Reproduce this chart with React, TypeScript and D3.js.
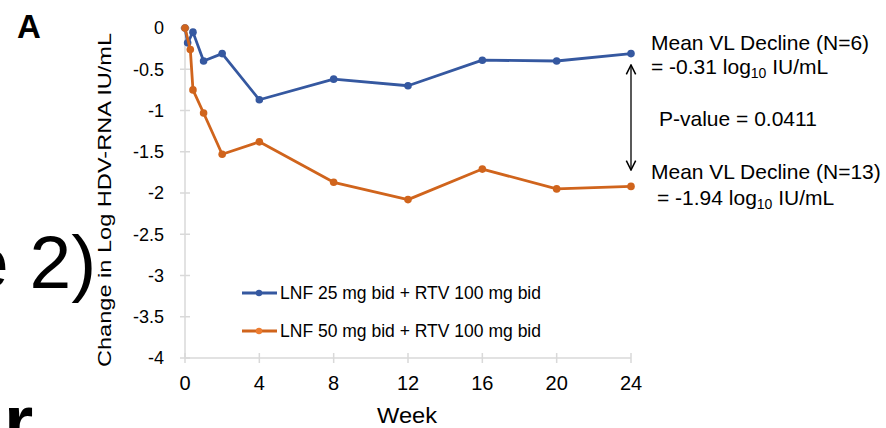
import React from "react";
import * as d3 from "d3";

// weeks sampled for each arm (early days shown as fractions of a week)
const weeksLow = [0, 1 / 7, 3 / 7, 1, 2, 4, 8, 12, 16, 20, 24];
const valuesLow = [0, -0.18, -0.05, -0.4, -0.31, -0.87, -0.62, -0.7, -0.39, -0.4, -0.31];
const weeksHigh = [0, 2 / 7, 3 / 7, 1, 2, 4, 8, 12, 16, 20, 24];
const valuesHigh = [0, -0.26, -0.75, -1.03, -1.53, -1.38, -1.87, -2.08, -1.71, -1.95, -1.92];

const seriesNames = ["LNF 25 mg bid + RTV 100 mg bid", "LNF 50 mg bid + RTV 100 mg bid"];
const xTicks = [0, 4, 8, 12, 16, 20, 24];
const yTicks = [0, -0.5, -1, -1.5, -2, -2.5, -3, -3.5, -4];

const BLUE = "#3558a0";
const ORANGE = "#d0641c";
const FONT = "Arial, 'Liberation Sans', sans-serif";

export default function App() {
  const x = d3.scaleLinear().domain([0, 24]).range([185, 631]);
  const y = d3.scaleLinear().domain([-4, 0]).range([358, 28]);
  const line = d3
    .line<[number, number]>()
    .x((d) => x(d[0]))
    .y((d) => y(d[1]));

  const series = [
    { name: seriesNames[0], color: BLUE, pts: weeksLow.map((w, i) => [w, valuesLow[i]] as [number, number]) },
    { name: seriesNames[1], color: ORANGE, pts: weeksHigh.map((w, i) => [w, valuesHigh[i]] as [number, number]) },
  ];

  return (
    <svg
      width={886}
      height={428}
      style={{ position: "absolute", left: 0, top: 0, background: "#fff", fontFamily: FONT }}
    >
      <defs>
        <marker id="ah" viewBox="0 0 10 10" refX="9" refY="5" markerWidth="9" markerHeight="9" orient="auto-start-reverse">
          <path d="M1,1 L9,5 L1,9" fill="none" stroke="#000" strokeWidth="1.3" />
        </marker>
      </defs>

      {/* stray slide text */}
      <text x={17} y={38} fontSize={33} fontWeight="bold" fill="#000">A</text>
      <text x={-33} y={288} fontSize={75} fill="#000">e 2)</text>
      <text x={4} y={447} fontSize={75} fontWeight="bold" fill="#000">r</text>

      {/* axes */}
      <line x1={x(0)} x2={x(0)} y1={y(0)} y2={y(-4)} stroke="#d9d9d9" strokeWidth={1.5} />
      <line x1={x(0)} x2={x(24)} y1={y(-4)} y2={y(-4)} stroke="#d9d9d9" strokeWidth={1.5} />
      {yTicks.map((v) => (
        <g key={v}>
          <line x1={x(0) - 5} x2={x(0) + 5} y1={y(v)} y2={y(v)} stroke="#d9d9d9" strokeWidth={1.5} />
          <text x={164} y={y(v)} dy="0.35em" textAnchor="end" fontSize={18} fill="#000">
            {v}
          </text>
        </g>
      ))}
      {xTicks.map((v) => (
        <g key={v}>
          <line x1={x(v)} x2={x(v)} y1={y(-4) - 5} y2={y(-4) + 5} stroke="#d9d9d9" strokeWidth={1.5} />
          <text x={x(v)} y={390} textAnchor="middle" fontSize={20} fill="#000">
            {v}
          </text>
        </g>
      ))}
      <text x={407} y={423} textAnchor="middle" fontSize={22} textLength={60} lengthAdjust="spacingAndGlyphs" fill="#000">
        Week
      </text>
      <text
        transform="translate(111,200) rotate(-90)"
        textAnchor="middle"
        fontSize={19}
        textLength={334}
        lengthAdjust="spacingAndGlyphs"
        fill="#000"
      >
        Change in Log HDV-RNA IU/mL
      </text>

      {/* series */}
      {series.map((s) => (
        <g key={s.name}>
          <path d={line(s.pts) ?? ""} fill="none" stroke={s.color} strokeWidth={2.8} strokeLinejoin="round" />
          {s.pts.map((p, i) => (
            <circle key={i} cx={x(p[0])} cy={y(p[1])} r={3.8} fill={s.color} />
          ))}
        </g>
      ))}

      {/* legend */}
      {series.map((s, i) => (
        <g key={s.name} transform={`translate(242,${293 + i * 38})`}>
          <line x1={0} x2={35} y1={0} y2={0} stroke={s.color} strokeWidth={2.8} />
          <circle cx={17} cy={0} r={3.2} fill={i === 0 ? BLUE : "#ed7d31"} />
          <text x={38} y={0} dy="0.35em" fontSize={17.5} textLength={261} lengthAdjust="spacingAndGlyphs" fill="#000">
            {s.name}
          </text>
        </g>
      ))}

      {/* annotation */}
      <line x1={631} x2={631} y1={65} y2={170} stroke="#000" strokeWidth={1.3} markerStart="url(#ah)" markerEnd="url(#ah)" />
      <g fontSize={21} fill="#000">
        <text x={651} y={50}>Mean VL Decline (N=6)</text>
        <text x={651} y={74}>
          = -0.31 log<tspan fontSize={14} dy={4}>10</tspan>
          <tspan dy={-4}> IU/mL</tspan>
        </text>
        <text x={659} y={126}>P-value = 0.0411</text>
        <text x={651} y={179}>Mean VL Decline (N=13)</text>
        <text x={657} y={205}>
          = -1.94 log<tspan fontSize={14} dy={4}>10</tspan>
          <tspan dy={-4}> IU/mL</tspan>
        </text>
      </g>
    </svg>
  );
}
